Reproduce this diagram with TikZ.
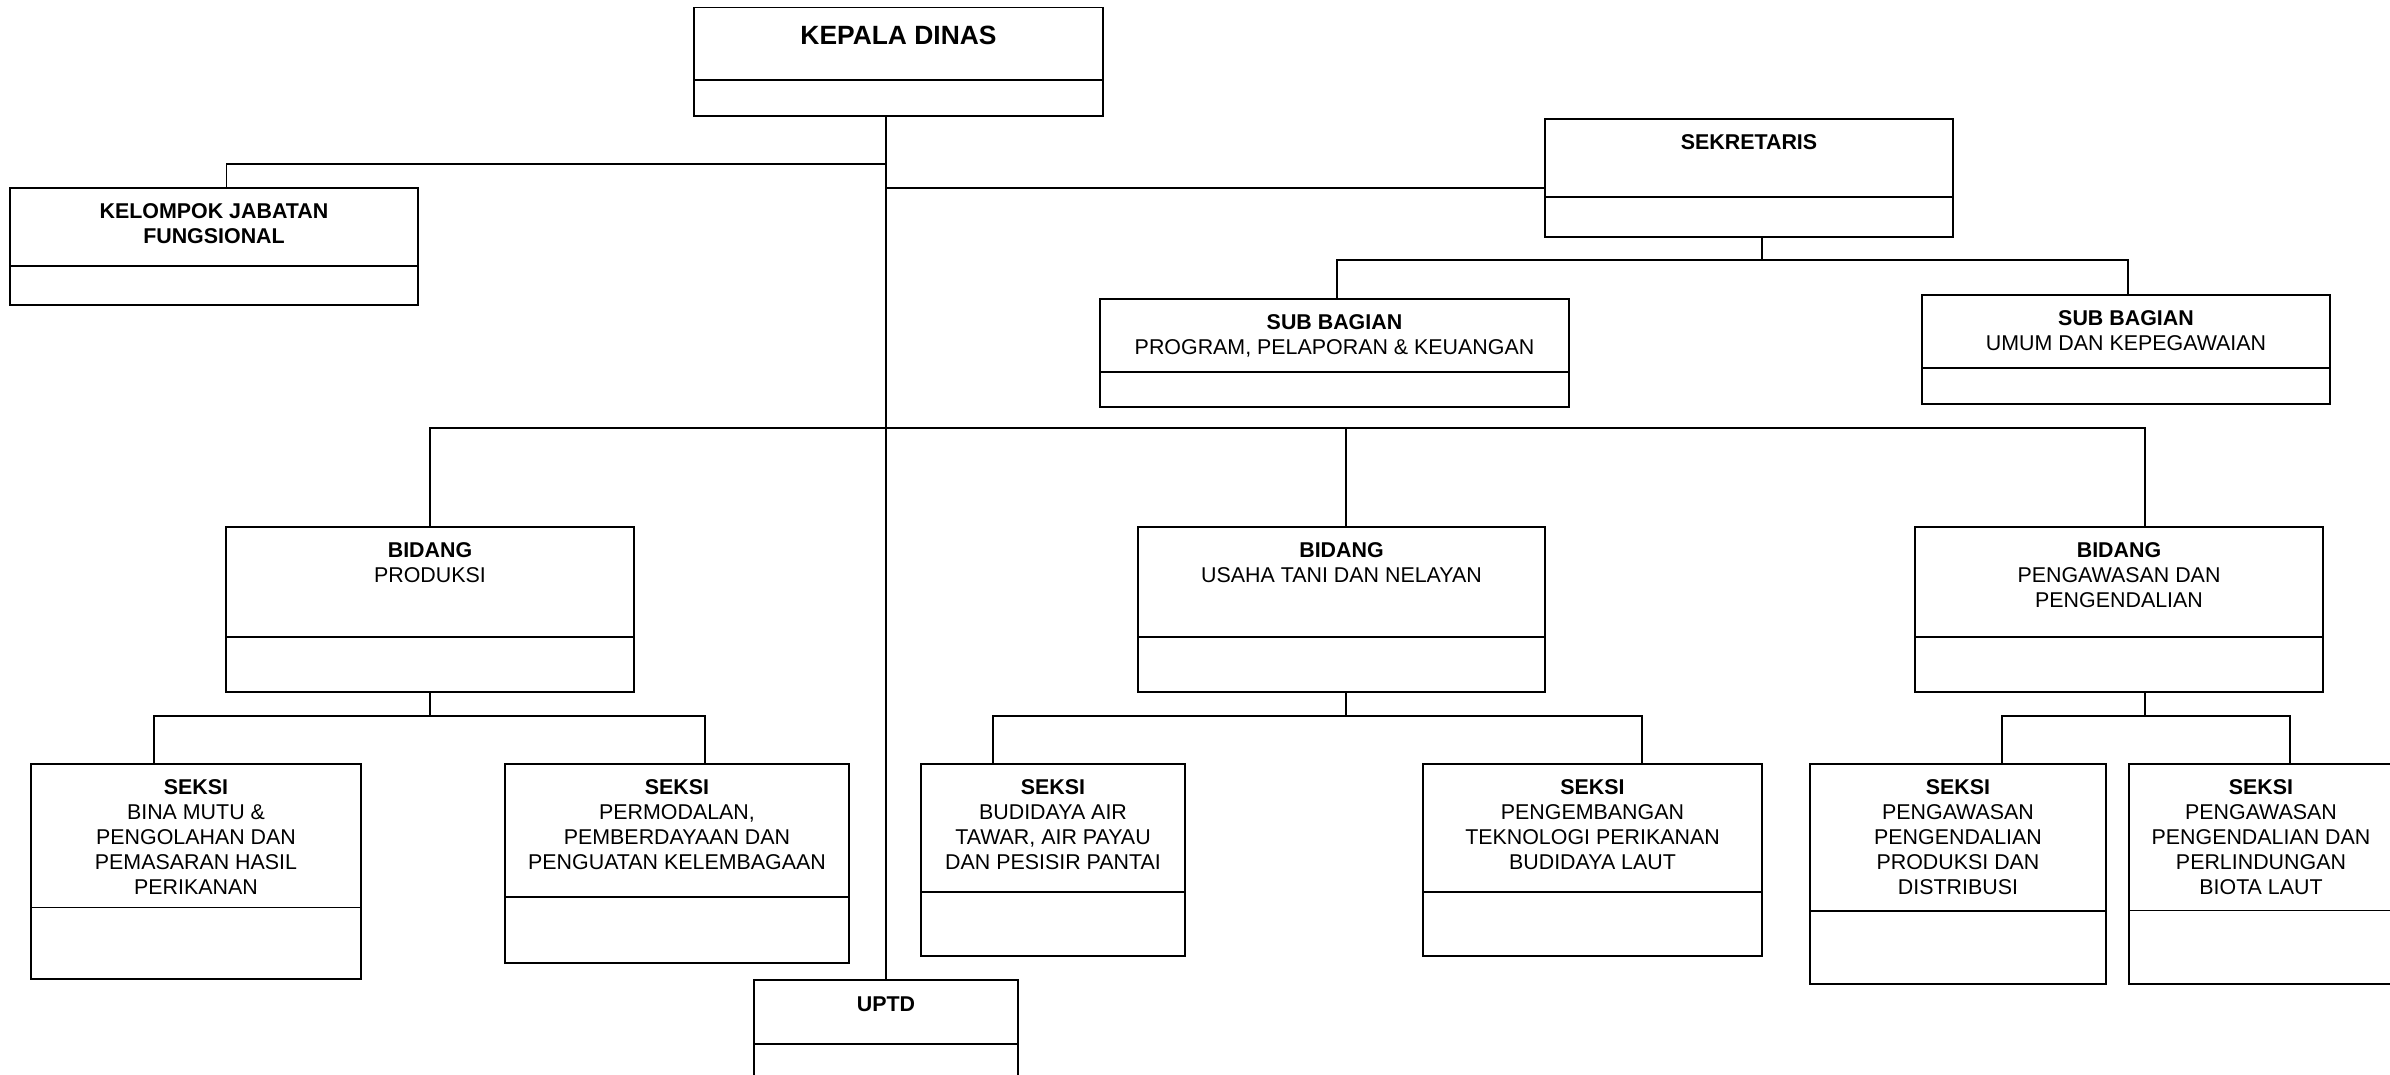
\documentclass[tikz,border=0pt]{standalone}
\usepackage{fontspec}
\setmainfont{Liberation Sans}
\usetikzlibrary{positioning}

% unit box: [text offset]{name}{x centre}{y top}{width}{upper h}{lower h}{text}
\newcommand{\orgunit}[8][7.5pt]{%
  \node[unit, minimum width=#5*0.5pt, minimum height=#6*0.5pt, anchor=north] (#2) at (#3,#4) {};
  \node[unit, minimum width=#5*0.5pt, minimum height=#7*0.5pt, anchor=north] (#2-b) at (#2.south) {};
  \node[unittext, below=#1 of #2.north] (#2-t) {#8};
}

\begin{document}
\begin{tikzpicture}[x=0.5pt, y=-0.5pt,
    unit/.style={draw, line width=0.9pt, inner sep=0pt, outer sep=0pt},
    unittext/.style={inner sep=0pt, align=center, font=\fontsize{10.7}{12.5}\selectfont},
    link/.style={line width=0.65pt}]
  \path[use as bounding box, clip] (0,0) rectangle (2390,1075);

  \orgunit[9.25pt]{kd}{898.5}{7.5}{409}{72.5}{36}{\fontsize{13.2}{15.8}\selectfont\bfseries KEPALA DINAS}
  \orgunit{kjf}{214}{188}{408}{78}{39}{\textbf{KELOMPOK JABATAN}\\\textbf{FUNGSIONAL}}
  \orgunit{sek}{1749}{119}{408}{78}{40}{\textbf{SEKRETARIS}}
  \orgunit{sb1}{1334.5}{299}{469}{73}{35}{\textbf{SUB BAGIAN}\\PROGRAM, PELAPORAN \& KEUANGAN}
  \orgunit{sb2}{2126}{295}{408}{73}{36}{\textbf{SUB BAGIAN}\\UMUM DAN KEPEGAWAIAN}
  \orgunit{bp}{430}{527}{408}{110}{55}{\textbf{BIDANG}\\PRODUKSI}
  \orgunit{bu}{1341.5}{527}{407}{110}{55}{\textbf{BIDANG}\\USAHA TANI DAN NELAYAN}
  \orgunit{bw}{2119}{527}{408}{110}{55}{\textbf{BIDANG}\\PENGAWASAN DAN\\PENGENDALIAN}
  \orgunit{s1}{196}{764}{330}{143.5}{71.5}{\textbf{SEKSI}\\BINA MUTU \&\\PENGOLAHAN DAN\\PEMASARAN HASIL\\PERIKANAN}
  \orgunit{s2}{677}{764}{344.5}{133}{66}{\textbf{SEKSI}\\PERMODALAN,\\PEMBERDAYAAN DAN\\PENGUATAN KELEMBAGAAN}
  \orgunit{s3}{1053}{764}{264.5}{128}{64}{\textbf{SEKSI}\\BUDIDAYA AIR\\TAWAR, AIR PAYAU\\DAN PESISIR PANTAI}
  \orgunit{s4}{1592.5}{764}{339}{128}{64}{\textbf{SEKSI}\\PENGEMBANGAN\\TEKNOLOGI PERIKANAN\\BUDIDAYA LAUT}
  \orgunit{s5}{1958}{764}{296}{147}{73}{\textbf{SEKSI}\\PENGAWASAN\\PENGENDALIAN\\PRODUKSI DAN\\DISTRIBUSI}
  \orgunit{s6}{2261}{764}{264}{146.5}{73.5}{\textbf{SEKSI}\\PENGAWASAN\\PENGENDALIAN DAN\\PERLINDUNGAN\\BIOTA LAUT}
  \orgunit[8.25pt]{uptd}{886}{980}{264}{64}{64}{\textbf{UPTD}}

  % junctions
  \coordinate (kjf-j) at (886,164);
  \coordinate (sek-j) at (886,188);
  \coordinate (bid-j) at (886,428);
  \coordinate (sb-j) at ([xshift=6.5pt, yshift=-11.5pt]sek-b.south);
  \coordinate (bp-j) at ([yshift=-12pt]bp-b.south);
  \coordinate (bu-j) at ([xshift=2.25pt, yshift=-12pt]bu-b.south);
  \coordinate (bw-j) at ([xshift=13pt, yshift=-12pt]bw-b.south);

  % kepala dinas
  \draw[link] (kd-b.south -| uptd.north) -- (uptd.north);
  \draw[link] (kjf-j) -| ([xshift=6.25pt]kjf.north);
  \draw[link] (sek-j) -- (sek-j -| sek.west);

  % sekretaris
  \draw[link] (sek-b.south -| sb-j) -- (sb-j);
  \draw[link] ([xshift=1.25pt]sb1.north) |- (sb-j) -| ([xshift=1pt]sb2.north);

  % bidang
  \draw[link] (bp.north) |- (bid-j) -| (bw-j |- bw.north);
  \draw[link] (bu-j |- bid-j) -- (bu-j |- bu.north);

  % seksi
  \draw[link] (bp-b.south) -- (bp-j);
  \draw[link] ([xshift=-21pt]s1.north) |- (bp-j) -| ([xshift=14pt]s2.north);
  \draw[line width=0.95pt] ([xshift=-18pt]bp-j) -- ([xshift=17.5pt]bp-j);
  \draw[link] (bu-j |- bu-b.south) -- (bu-j);
  \draw[link] ([xshift=-30pt]s3.north) |- (bu-j) -| ([xshift=24.75pt]s4.north);
  \draw[link] (bw-j |- bw-b.south) -- (bw-j);
  \draw[link] ([xshift=22pt]s5.north) |- (bw-j) -| ([xshift=14.5pt]s6.north);
\end{tikzpicture}
\end{document}
